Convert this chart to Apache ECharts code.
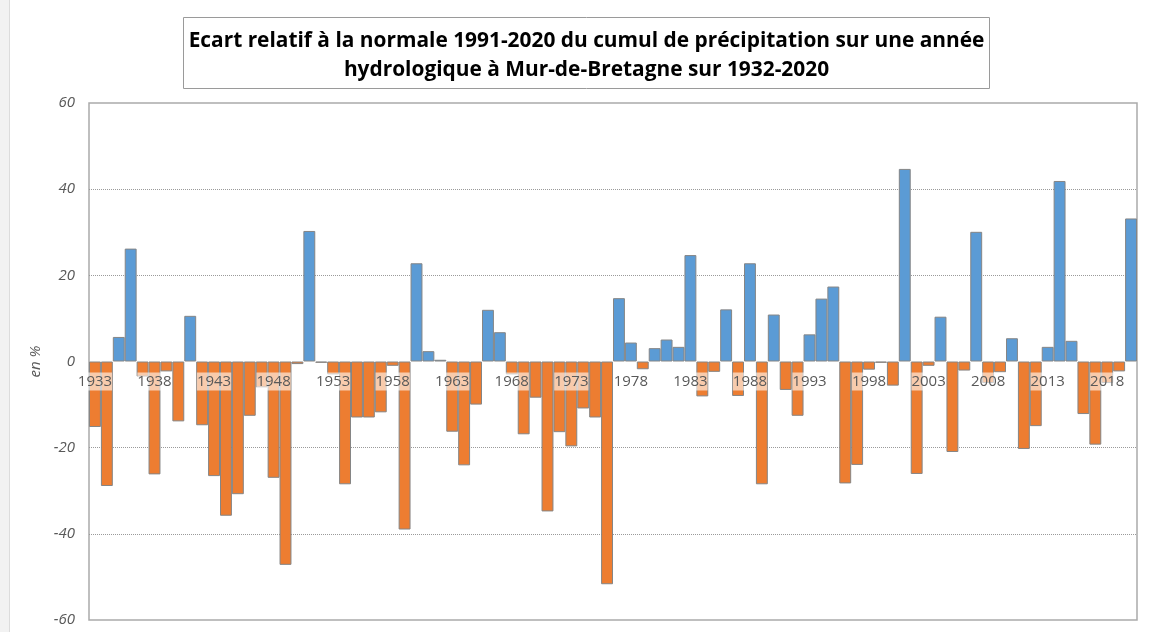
<!DOCTYPE html>
<html>
<head>
<meta charset="utf-8">
<script src="https://cdn.jsdelivr.net/npm/echarts@6/dist/echarts.min.js"></script>
<style>
  html, body { margin: 0; padding: 0; background: #ffffff; }
  #chart { width: 1150px; height: 632px; }
</style>
</head>
<body>
<div id="chart"></div>
<script>
// Hydrological years (one bar per year)
const years = [
  '1933','1934','1935','1936','1937','1938','1939','1940','1941','1942',
  '1943','1944','1945','1946','1947','1948','1949','1950','1951','1952',
  '1953','1954','1955','1956','1957','1958','1959','1960','1961','1962',
  '1963','1964','1965','1966','1967','1968','1969','1970','1971','1972',
  '1973','1974','1975','1976','1977','1978','1979','1980','1981','1982',
  '1983','1984','1985','1986','1987','1988','1989','1990','1991','1992',
  '1993','1994','1995','1996','1997','1998','1999','2000','2001','2002',
  '2003','2004','2005','2006','2007','2008','2009','2010','2011','2012',
  '2013','2014','2015','2016','2017','2018','2019','2020'
];

// Relative deviation (%) of the yearly rainfall total from the 1991-2020 normal
const ecart = [
  -15.2, -28.9,   5.7,  26.2,  -3.5, -26.2,  -2.3, -13.9,  10.6, -14.8,
  -26.6, -35.8, -30.8, -12.6,  -6.0, -27.0, -47.2,  -0.6,  30.3,  -0.3,
   -3.0, -28.5, -13.0, -13.0, -11.8,  -1.0, -39.0,  22.8,   2.4,   0.4,
  -16.3, -24.1, -10.0,  12.0,   6.8,  -3.0, -16.9,  -8.4, -34.8, -16.4,
  -19.7, -10.9, -13.0, -51.7,  14.7,   4.4,  -1.8,   3.1,   5.1,   3.4,
   24.7,  -8.1,  -2.4,  12.1,  -8.0,  22.8, -28.5,  10.9,  -6.6, -12.6,
    6.3,  14.6,  17.4, -28.3, -24.0,  -1.9,  -0.3,  -5.6,  44.7, -26.1,
   -1.0,  10.4, -21.0,  -2.1,  30.1,  -5.0,  -2.5,   5.4, -20.3, -15.0,
    3.4,  41.9,   4.8, -12.2, -19.3,  -5.0,  -2.3,  33.2
];

const titleLines = [
  'Ecart relatif à la normale 1991-2020 du cumul de précipitation sur une année',
  'hydrologique à Mur-de-Bretagne sur 1932-2020'
];

const wetColor = '#5B9BD5';
const dryColor = '#ED7D31';
const baseFont = '"Open Sans", "Noto Sans", sans-serif';

// Plot box (px) and value range
const gridBox = { left: 89, right: 13, top: 103, bottom: 12 };
const yMin = -60, yMax = 60;
const plotHeight = 632 - gridBox.top - gridBox.bottom;
// Year labels sit on the zero line: shift the category axis up from the plot bottom
const zeroOffset = -plotHeight * (0 - yMin) / (yMax - yMin);

// Size the title so the first line spans the framed box
function fitTitleSize(text, targetWidth) {
  const ctx = document.createElement('canvas').getContext('2d');
  ctx.font = 'bold 20px ' + baseFont;
  const w = ctx.measureText(text).width;
  return Math.min(21, 20 * targetWidth / w);
}
const titleSize = fitTitleSize(titleLines[0], 796);

const chart = echarts.init(document.getElementById('chart'), null, { renderer: 'canvas' });

const titleTextStyle = (txt) => ({
  text: txt,
  fill: '#000000',
  font: 'bold ' + titleSize.toFixed(2) + 'px ' + baseFont,
  textAlign: 'center',
  textVerticalAlign: 'middle'
});

chart.setOption({
  animation: false,
  backgroundColor: '#ffffff',
  textStyle: { fontFamily: baseFont },
  graphic: [
    { type: 'rect', left: 0, top: 0, shape: { width: 9, height: 632 }, style: { fill: '#f2f2f2' }, silent: true },
    { type: 'line', shape: { x1: 9.5, y1: 0, x2: 9.5, y2: 632 }, style: { stroke: '#dcdcdc', lineWidth: 1 }, silent: true },
    {
      type: 'rect',
      shape: { x: 183.5, y: 17.5, width: 806, height: 71 },
      style: { fill: '#ffffff', stroke: '#9a9a9a', lineWidth: 1 },
      silent: true,
      z: 20
    },
    { type: 'text', x: 586.5, y: 41, style: titleTextStyle(titleLines[0]), silent: true, z: 21 },
    { type: 'text', x: 586.5, y: 70, style: titleTextStyle(titleLines[1]), silent: true, z: 21 }
  ],
  grid: {
    left: gridBox.left, right: gridBox.right, top: gridBox.top, bottom: gridBox.bottom,
    show: true,
    borderColor: '#ababab',
    borderWidth: 1.5,
    containLabel: false,
    outerBoundsMode: 'none'
  },
  xAxis: {
    type: 'category',
    data: years,
    position: 'bottom',
    offset: zeroOffset,
    z: 10,
    axisLine: { show: false, onZero: false },
    axisTick: { show: false },
    splitLine: { show: false },
    axisLabel: {
      show: true,
      interval: 4,
      color: '#595959',
      fontFamily: baseFont,
      fontSize: 15,
      margin: 11,
      padding: [2, 0, 1, 0],
      backgroundColor: 'rgba(255,255,255,0.6)'
    }
  },
  yAxis: {
    type: 'value',
    min: yMin,
    max: yMax,
    interval: 20,
    name: 'en %',
    nameLocation: 'middle',
    nameGap: 45,
    nameRotate: 90,
    nameTextStyle: { color: '#595959', fontFamily: baseFont, fontSize: 15, fontStyle: 'italic' },
    axisLine: { show: false },
    axisTick: { show: false },
    axisLabel: { color: '#595959', fontFamily: baseFont, fontSize: 15, fontStyle: 'italic', margin: 14 },
    splitLine: {
      show: true,
      lineStyle: {
        type: 'dotted',
        width: 1,
        color: ['rgba(0,0,0,0)', '#9a9a9a', '#9a9a9a', 'rgba(0,0,0,0)', '#9a9a9a', '#9a9a9a', 'rgba(0,0,0,0)']
      }
    }
  },
  series: [{
    type: 'bar',
    data: ecart,
    barCategoryGap: '0%',
    itemStyle: {
      color: p => (p.value >= 0 ? wetColor : dryColor),
      borderColor: '#858585',
      borderWidth: 1
    }
  }]
});
</script>
</body>
</html>
